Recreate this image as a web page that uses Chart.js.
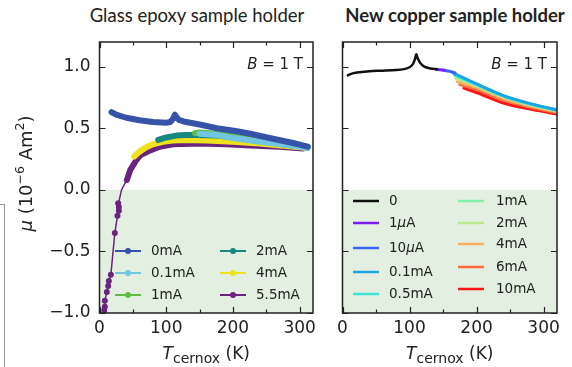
<!DOCTYPE html>
<html lang="en">
<head>
<meta charset="UTF-8">
<title>Magnetic moment vs temperature</title>
<script src="https://cdn.jsdelivr.net/npm/chart.js"></script>
<style>
  body { margin: 0; background: #fff; width: 572px; height: 367px; position: relative; overflow: hidden; }
  canvas { position: absolute; top: 0; }
  #epoxy { left: 0; }
  #copper { left: 330px; }
  .title { position: absolute; top: 4px; font-family: Lato, "Open Sans", sans-serif; font-size: 18.5px; color: #222; white-space: nowrap; transform: translateX(-50%); }
  .edge { position: absolute; left: 0; top: 204px; width: 4px; height: 170px; border-top: 1px solid #999; border-right: 1px solid #999; }
</style>
</head>
<body>
<div class="edge"></div>
<div class="title" id="t1" style="left:197px">Glass epoxy sample holder</div>
<div class="title" id="t2" style="left:455px;font-weight:bold">New copper sample holder</div>
<canvas id="epoxy" width="330" height="367"></canvas>
<canvas id="copper" width="242" height="367"></canvas>
<script>
// axis ticks
const tempTicks = [0, 100, 200, 300];
const tempMinor = [50, 150, 250];
const muTicks = [-1.0, -0.5, 0.0, 0.5, 1.0];

// glass epoxy holder, T (K) and moment (1e-6 Am^2)
const epoxyLabels = ['0mA', '0.1mA', '1mA', '2mA', '4mA', '5.5mA'];
const epoxyColors = ['#3653a8', '#72c6e2', '#5cbc45', '#17877f', '#efe21c', '#6b2380'];
const T_0mA = [18, 25, 40, 60, 80, 100, 106, 110, 113, 116, 120, 126, 150, 176, 206, 226, 260, 290, 312];
const mu_0mA = [0.63, 0.61, 0.585, 0.565, 0.55, 0.545, 0.55, 0.575, 0.61, 0.585, 0.565, 0.555, 0.53, 0.50, 0.475, 0.455, 0.415, 0.38, 0.35];
const T_01mA = [150, 175, 200, 240, 280, 312];
const mu_01mA = [0.455, 0.445, 0.42, 0.39, 0.365, 0.34];
const T_1mA = [143, 150, 175, 200, 230, 260, 290, 312];
const mu_1mA = [0.46, 0.465, 0.455, 0.435, 0.405, 0.38, 0.36, 0.345];
const T_2mA = [88, 100, 115, 130, 145, 175, 210, 250, 290, 312];
const mu_2mA = [0.405, 0.425, 0.44, 0.445, 0.445, 0.44, 0.42, 0.39, 0.36, 0.345];
const T_4mA = [52, 60, 70, 80, 95, 110, 130, 160, 200, 240, 280, 312];
const mu_4mA = [0.27, 0.31, 0.345, 0.37, 0.39, 0.40, 0.405, 0.40, 0.39, 0.375, 0.355, 0.34];
const T_55mA = [7, 8, 8, 11, 13, 14, 17, 23, 27, 29, 29, 28, 33, 41, 46, 55, 61, 76, 90, 110, 150, 190, 226, 270, 305];
const mu_55mA = [-0.98, -0.95, -0.90, -0.83, -0.78, -0.74, -0.69, -0.35, -0.21, -0.17, -0.14, -0.11, 0.0, 0.08, 0.16, 0.24, 0.28, 0.32, 0.35, 0.37, 0.375, 0.37, 0.36, 0.35, 0.335];

// new copper holder
const copperLabels = ['0', '1μA', '10μA', '0.1mA', '0.5mA', '1mA', '2mA', '4mA', '6mA', '10mA'];
const copperColors = ['#111111', '#7a1ef2', '#3c64f4', '#1aa6e6', '#3de6d6', '#82f2aa', '#bbe890', '#f8b062', '#ff6a3a', '#ff1414'];
const T_c0 = [8, 15, 25, 40, 60, 80, 92, 100, 105, 108, 110, 112, 116, 122, 131, 141];
const mu_c0 = [0.93, 0.945, 0.955, 0.963, 0.967, 0.972, 0.98, 0.995, 1.02, 1.06, 1.10, 1.07, 1.03, 1.0, 0.985, 0.978];
const T_c1u = [140, 146, 152];
const mu_c1u = [0.978, 0.975, 0.97];
const T_c10u = [150, 160, 168];
const mu_c10u = [0.972, 0.962, 0.948];
const T_c01 = [166, 200, 240, 280, 320];
const mu_c01 = [0.946, 0.86, 0.765, 0.70, 0.648];
const T_c05 = [167, 200, 240, 280, 320];
const mu_c05 = [0.935, 0.856, 0.762, 0.697, 0.646];
const T_c1 = [168, 200, 240, 280, 320];
const mu_c1 = [0.925, 0.852, 0.759, 0.694, 0.644];
const T_c2 = [169, 200, 240, 280, 320];
const mu_c2 = [0.905, 0.845, 0.755, 0.69, 0.64];
const T_c4 = [171, 200, 240, 280, 320];
const mu_c4 = [0.878, 0.83, 0.74, 0.68, 0.635];
const T_c6 = [175, 200, 240, 280, 320];
const mu_c6 = [0.855, 0.815, 0.728, 0.67, 0.627];
const T_c10 = [181, 200, 240, 280, 320];
const mu_c10 = [0.825, 0.79, 0.705, 0.655, 0.615];

const pts = (T, m) => T.map((t, i) => ({x: t, y: m[i]}));
const TXT = '#222';
const FONT = '"DejaVu Sans", sans-serif';

// frame, inward ticks, shaded negative region, in-plot legend, axis titles
const deco = {
  id: 'deco',
  beforeDatasetsDraw(chart) {
    const {ctx, chartArea: a, scales: {y}} = chart;
    const y0 = y.getPixelForValue(0);
    ctx.save();
    ctx.fillStyle = '#e3efe1';
    ctx.fillRect(a.left, y0, a.right - a.left, a.bottom - y0);
    ctx.restore();
  },
  afterDraw(chart, args, o) {
    const {ctx, chartArea: a, scales: {x, y}} = chart;
    ctx.save();
    ctx.strokeStyle = TXT;
    ctx.lineWidth = 1.2;
    ctx.beginPath();
    tempTicks.concat(tempMinor).forEach(v => {
      const px = Math.round(x.getPixelForValue(v)) + 0.5;
      const len = tempTicks.includes(v) ? 6 : 3.5;
      ctx.moveTo(px, a.bottom); ctx.lineTo(px, a.bottom - len);
      ctx.moveTo(px, a.top); ctx.lineTo(px, a.top + len);
    });
    muTicks.forEach(v => {
      const py = Math.round(y.getPixelForValue(v)) + 0.5;
      ctx.moveTo(a.left, py); ctx.lineTo(a.left + 6, py);
      ctx.moveTo(a.right, py); ctx.lineTo(a.right - 6, py);
    });
    ctx.stroke();
    ctx.lineWidth = 1.5;
    ctx.strokeRect(a.left, a.top, a.right - a.left, a.bottom - a.top);

    // B = 1 T
    ctx.fillStyle = TXT;
    ctx.textBaseline = 'alphabetic';
    ctx.textAlign = 'left';
    ctx.font = '15px ' + FONT;
    const rest = ' = 1 T';
    const rw = ctx.measureText(rest).width;
    ctx.font = 'italic 15px ' + FONT;
    const bw = ctx.measureText('B').width;
    const bx = a.right - 10 - rw - bw;
    ctx.fillText('B', bx, 69);
    ctx.font = '15px ' + FONT;
    ctx.fillText(rest, bx + bw, 69);

    // legend
    chart.data.datasets.forEach((ds, i) => {
      const e = o.legend[i];
      ctx.strokeStyle = ds.borderColor;
      ctx.lineWidth = o.legendLine;
      ctx.beginPath();
      ctx.moveTo(e[0], e[2]); ctx.lineTo(e[0] + 26, e[2]);
      ctx.stroke();
      if (o.legendDot) {
        ctx.fillStyle = ds.borderColor;
        ctx.beginPath(); ctx.arc(e[0] + 13, e[2], 3, 0, Math.PI * 2); ctx.fill();
      }
      ctx.fillStyle = TXT;
      ctx.textBaseline = 'middle';
      ctx.font = '13.5px ' + FONT;
      let tx = e[1];
      const lab = ds.label;
      const k = lab.indexOf('μ');
      if (k >= 0) {
        ctx.fillText(lab.slice(0, k), tx, e[2]);
        tx += ctx.measureText(lab.slice(0, k)).width;
        ctx.font = 'italic 13.5px ' + FONT;
        ctx.fillText('μ', tx, e[2]);
        tx += ctx.measureText('μ').width;
        ctx.font = '13.5px ' + FONT;
        ctx.fillText(lab.slice(k + 1), tx, e[2]);
      } else {
        ctx.fillText(lab, tx, e[2]);
      }
    });

    // x title: T_cernox (K)
    ctx.textBaseline = 'alphabetic';
    const parts = [['T', 'italic 17px ', 0], ['cernox', '14px ', 4], [' (K)', '17px ', 0]];
    let w = 0;
    parts.forEach(p => { ctx.font = p[1] + FONT; w += ctx.measureText(p[0]).width; });
    let cx = (a.left + a.right) / 2 - w / 2;
    parts.forEach(p => {
      ctx.font = p[1] + FONT;
      ctx.fillText(p[0], cx, 359 + p[2]);
      cx += ctx.measureText(p[0]).width;
    });

    // y title
    if (o.yTitle) {
      const yp = [['μ', 'italic 18px ', 0], [' (10', '18px ', 0], ['−6', '12.5px ', -8], [' Am', '18px ', 0], ['2', '12.5px ', -8], [')', '18px ', 0]];
      let h = 0;
      yp.forEach(p => { ctx.font = p[1] + FONT; h += ctx.measureText(p[0]).width; });
      ctx.translate(32, (a.top + a.bottom) / 2 + h / 2 - 4);
      ctx.rotate(-Math.PI / 2);
      let sx = 0;
      yp.forEach(p => {
        ctx.font = p[1] + FONT;
        ctx.fillText(p[0], sx, p[2]);
        sx += ctx.measureText(p[0]).width;
      });
    }
    ctx.restore();
  }
};

function makeScales(yWidth, showY) {
  const setTicks = vals => s => { s.ticks = vals.map(v => ({value: v})); };
  return {
    x: {
      type: 'linear', min: 0, max: 320,
      grid: {display: false, drawTicks: false}, border: {display: false},
      afterBuildTicks: setTicks(tempTicks),
      afterFit: s => { s.height = 54; },
      ticks: {color: TXT, font: {family: FONT, size: 17}, padding: 5, maxRotation: 0}
    },
    y: {
      min: -1.0, max: 1.2,
      grid: {display: false, drawTicks: false}, border: {display: false},
      afterBuildTicks: setTicks(muTicks),
      afterFit: s => { s.width = yWidth; },
      ticks: {display: showY, color: TXT, font: {family: FONT, size: 17}, padding: 9,
        callback: v => (v < 0 ? '−' : '') + Math.abs(v).toFixed(1)}
    }
  };
}

const common = {
  responsive: false, animation: false, devicePixelRatio: 1,
  plugins: {legend: {display: false}, tooltip: {enabled: false}}
};

const epoxySeries = [[T_0mA, mu_0mA], [T_01mA, mu_01mA], [T_1mA, mu_1mA], [T_2mA, mu_2mA], [T_4mA, mu_4mA], [T_55mA, mu_55mA]];
const epoxyDatasets = epoxySeries.map((s, i) => {
  const last = i === epoxySeries.length - 1;
  return {
    label: epoxyLabels[i], data: pts(s[0], s[1]),
    borderColor: epoxyColors[i], backgroundColor: epoxyColors[i],
    borderWidth: 6, borderCapStyle: 'round', borderJoinStyle: 'round',
    pointRadius: last ? s[0].map((t, j) => j < 12 ? 3 : 0) : 0,
    pointBorderWidth: 0, pointBackgroundColor: epoxyColors[i],
    segment: last ? {borderWidth: c => c.p0DataIndex < 13 ? 1.5 : 6} : undefined
  };
});

new Chart(document.getElementById('epoxy'), {
  type: 'line',
  data: {datasets: epoxyDatasets},
  options: Object.assign({}, common, {
    layout: {padding: {top: 42, right: 17, left: 0, bottom: 0}},
    scales: makeScales(99.5, true),
    plugins: Object.assign({}, common.plugins, {
      deco: {
        yTitle: true, legendDot: true, legendLine: 2,
        legend: [[115, 151, 251], [115, 151, 273], [115, 151, 295], [220, 256, 251], [220, 256, 273], [220, 256, 295]]
      }
    })
  }),
  plugins: [deco]
});

const copperSeries = [[T_c0, mu_c0], [T_c1u, mu_c1u], [T_c10u, mu_c10u], [T_c01, mu_c01], [T_c05, mu_c05],
  [T_c1, mu_c1], [T_c2, mu_c2], [T_c4, mu_c4], [T_c6, mu_c6], [T_c10, mu_c10]];
const copperDatasets = copperSeries.map((s, i) => ({
  label: copperLabels[i], data: pts(s[0], s[1]),
  borderColor: copperColors[i], borderWidth: i === 0 ? 2.5 : 3,
  borderCapStyle: 'round', borderJoinStyle: 'round', pointRadius: 0, tension: 0.3
}));

new Chart(document.getElementById('copper'), {
  type: 'line',
  data: {datasets: copperDatasets},
  options: Object.assign({}, common, {
    layout: {padding: {top: 42, right: 15, left: 0, bottom: 0}},
    scales: makeScales(12.5, false),
    plugins: Object.assign({}, common.plugins, {
      deco: {
        yTitle: false, legendDot: false, legendLine: 2.5,
        legend: [[23, 59, 201], [23, 59, 223], [23, 59, 248], [23, 59, 272], [23, 59, 294],
          [128, 166, 201], [128, 166, 223], [128, 166, 244], [128, 166, 267], [128, 166, 289]]
      }
    })
  }),
  plugins: [deco]
});
</script>
</body>
</html>
